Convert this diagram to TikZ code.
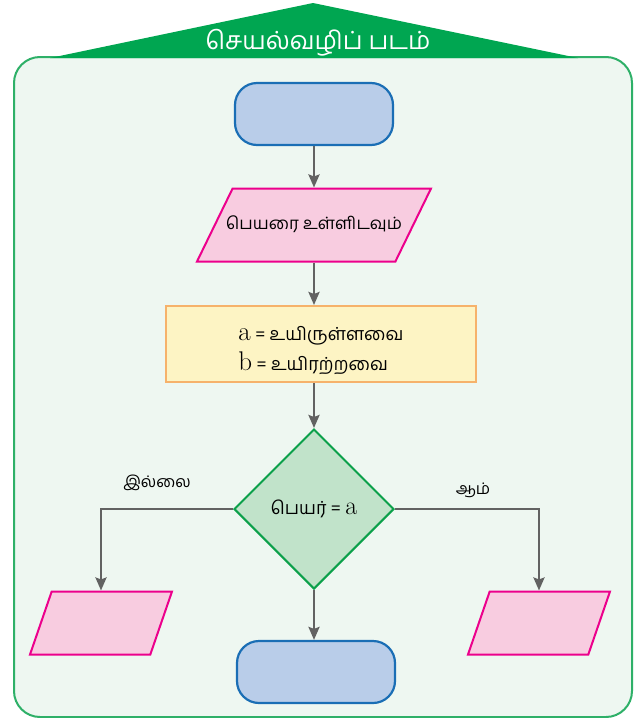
\documentclass[tikz,border=0pt]{standalone}
\usepackage{fontspec}
\newfontfamily\tamil[Script=Tamil]{Hind Madurai}
\usepackage{tikz}
\usetikzlibrary{arrows.meta, shapes.geometric}
\definecolor{framegreen}{RGB}{46,176,104}
\definecolor{framefill}{RGB}{238,247,241}
\definecolor{roofgreen}{RGB}{0,166,81}
\definecolor{termblue}{RGB}{26,110,181}
\definecolor{termfill}{RGB}{185,205,233}
\definecolor{iopink}{RGB}{236,0,140}
\definecolor{iofill}{RGB}{248,204,224}
\definecolor{procorange}{RGB}{246,178,107}
\definecolor{procfill}{RGB}{253,244,196}
\definecolor{decgreen}{RGB}{11,160,74}
\definecolor{decfill}{RGB}{193,227,202}
\definecolor{arrgray}{RGB}{98,98,98}

\begin{document}
\begin{tikzpicture}[x=1pt, y=-1pt, font=\tamil\fontsize{16}{19}\selectfont,
    term/.style={draw=termblue, line width=2.2pt, fill=termfill, rounded corners=22pt, minimum width=158pt, minimum height=62pt},
    io/.style={trapezium, trapezium stretches body, draw=iopink, line width=2pt, fill=iofill, inner xsep=0pt, text height=13pt, text depth=5pt},
    proc/.style={draw=procorange, line width=2pt, fill=procfill, minimum width=310pt, minimum height=76pt, align=left, font=\tamil\fontsize{18}{30}\selectfont},
    dec/.style={diamond, draw=decgreen, line width=2pt, fill=decfill, minimum width=160pt, minimum height=160pt, inner sep=0pt, font=\tamil\fontsize{18}{20}\selectfont},
    arr/.style={-{Stealth[length=13pt, width=11pt, inset=2pt]}, line width=2.5pt, arrgray}]
    \useasboundingbox (0,0) rectangle (634,718);
    % frame and title
    \draw[framegreen, line width=2pt, fill=framefill, rounded corners=26pt] (14,57) rectangle (632,717);
    \fill[roofgreen] (50,58) -- (313,3) -- (578,58) -- cycle;
    \node[text=white, font=\tamil\fontsize{25}{28}\selectfont] (title) at (318,43) {செயல்வழிப் படம்};
    % flow
    \node[term] (start) at (314,114) {};
    \node[io, trapezium left angle=64, trapezium right angle=116, minimum width=234pt, inner xsep=-8pt, inner ysep=27.5pt, font=\tamil\fontsize{17}{20}\selectfont] (inp) at (314,225) {பெயரை உள்ளிடவும்};
    \node[proc] (calc) at (321,344) {\rule{0pt}{28pt}{\rmfamily\fontsize{27}{27}\selectfont a} = உயிருள்ளவை\\{\rmfamily\fontsize{27}{27}\selectfont b} = உயிரற்றவை};
    \node[dec] (check) at (314,509) {பெயர் = {\rmfamily\fontsize{26}{26}\selectfont a}};
    \node[io, trapezium left angle=71, trapezium right angle=109, minimum width=142pt, inner ysep=22.5pt] (outno) at (101,623) {};
    \node[io, trapezium left angle=71, trapezium right angle=109, minimum width=142pt, inner ysep=22.5pt] (outyes) at (539,623) {};
    \node[term] (stop) at (316,672) {};
    \node (no) at (157,483) {இல்லை};
    \node (yes) at (473,490) {ஆம்};
    \draw[arr] (start) -- (inp);
    \draw[arr] (inp) -- (inp |- calc.north);
    \draw[arr] (calc.south -| check) -- (check);
    \draw[arr] (check.west) -| (outno);
    \draw[arr] (check.east) -| (outyes);
    \draw[arr] (check) -- (check |- stop.north);
  \end{tikzpicture}
\end{document}
